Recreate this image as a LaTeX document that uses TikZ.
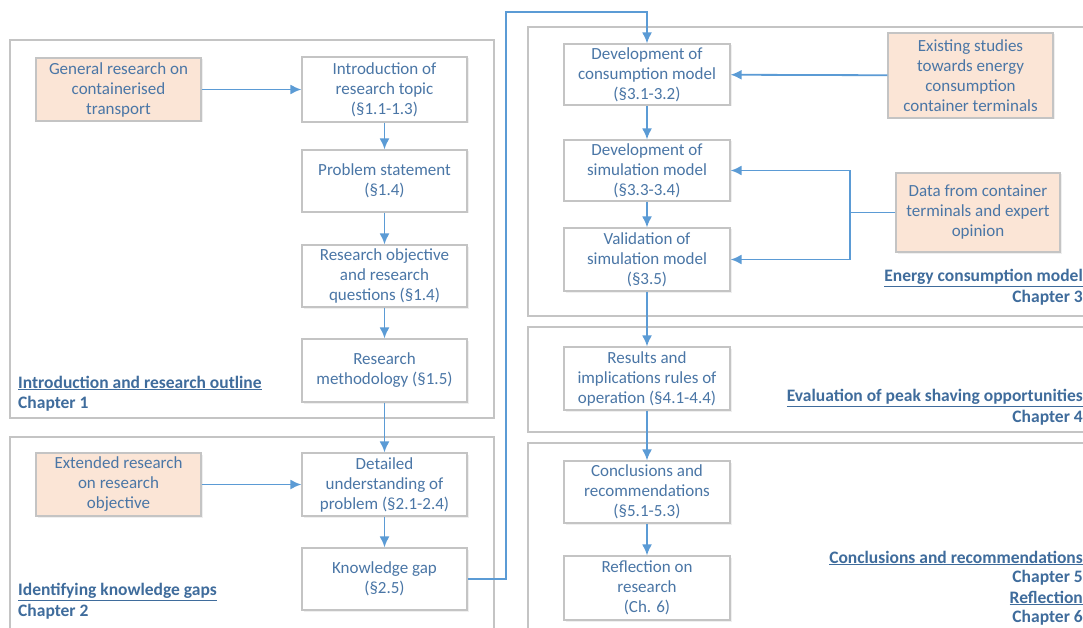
\documentclass[tikz,border=0pt]{standalone}
\usepackage{fontspec}
\setmainfont{Carlito}
\usetikzlibrary{arrows.meta,shadows,positioning}
\definecolor{txt}{HTML}{4A76A6}
\definecolor{lbl}{HTML}{3F6C9C}
\definecolor{peach}{HTML}{FBE5D6}
\definecolor{wire}{HTML}{5B9BD5}
\definecolor{frame}{HTML}{C4C4C4}
\begin{document}
\begin{tikzpicture}[x=1pt,y=-1pt,
  panel/.style={draw=frame,line width=1.3pt,fill=white},
  stage/.style={draw=frame,line width=1.2pt,fill=white,text=txt,align=center,
    font=\fontsize{17}{20}\selectfont,inner sep=0pt,
    drop shadow={opacity=0.12,shadow xshift=1.5pt,shadow yshift=-1.5pt}},
  source/.style={stage,fill=peach},
  flow/.style={draw=wire,line width=1.8pt,-{Latex[length=11pt,width=10pt]}},
  chap/.style={text=lbl,font=\fontsize{17.5}{20}\selectfont\bfseries,inner sep=0pt},
  chapL/.style={chap,anchor=west,align=left},
  chapR/.style={chap,anchor=east,align=right}]
\useasboundingbox (0,0) rectangle (1083,628);
\clip (0,0) rectangle (1083,628);
\fill[white] (0,0) rectangle (1083,628);

% chapter panels
\draw[panel] (10,40) rectangle (494,418);
\draw[panel] (10,437) rectangle (494,640);
\draw[panel] (528,27) rectangle (1095,316);
\draw[panel] (528,327) rectangle (1095,432);
\draw[panel] (528,443) rectangle (1095,640);

% chapter 1
\node[source,minimum width=165pt,minimum height=63pt] (gen) at (118.5,89.5) {General research on\\containerised\\transport};
\node[stage,minimum width=165pt,minimum height=65pt] (intro) at (384.5,89.5) {Introduction of\\research topic\\(§1.1-1.3)};
\node[stage,minimum width=165pt,minimum height=62pt] (prob) at (384.5,181) {Problem statement\\(§1.4)};
\node[stage,minimum width=165pt,minimum height=62pt] (obj) at (384.5,276) {Research objective\\and research\\questions (§1.4)};
\node[stage,minimum width=165pt,minimum height=63pt] (meth) at (384.5,370.5) {Research\\methodology (§1.5)};
\node[chapL] (c1a) at (18,383) {\underline{Introduction and research outline}};
\node[chapL] (c1b) at (18,404) {Chapter 1};

% chapter 2
\node[source,minimum width=165pt,minimum height=63pt] (ext) at (118.5,484.5) {Extended research\\on research\\objective};
\node[stage,minimum width=165pt,minimum height=63pt] (det) at (384.5,484.5) {Detailed\\understanding of\\problem (§2.1-2.4)};
\node[stage,minimum width=165pt,minimum height=62pt] (gap) at (384.5,579) {Knowledge gap\\(§2.5)};
\node[chapL] (c2a) at (18,592) {\underline{Identifying knowledge gaps}};
\node[chapL] (c2b) at (18,612) {Chapter 2};

% chapter 3
\node[stage,minimum width=166pt,minimum height=61pt] (cons) at (647,74.5) {Development of\\consumption model\\(§3.1-3.2)};
\node[source,minimum width=165pt,minimum height=85pt] (exist) at (970.5,75.5) {Existing studies\\towards energy\\consumption\\container terminals};
\node[stage,minimum width=166pt,minimum height=61pt] (sim) at (647,170.5) {Development of\\simulation model\\(§3.3-3.4)};
\node[stage,minimum width=166pt,minimum height=63pt] (val) at (647,259.5) {Validation of\\simulation model\\(§3.5)};
\node[source,minimum width=164pt,minimum height=79pt] (data) at (978,212.5) {Data from container\\terminals and expert\\opinion};
\node[chapR] (c3a) at (1083,278) {\underline{Energy consumption model}};
\node[chapR] (c3b) at (1083,298) {Chapter 3};

% chapter 4
\node[stage,minimum width=166pt,minimum height=63pt] (res) at (647,378.5) {Results and\\implications rules of\\operation (§4.1-4.4)};
\node[chapR] (c4a) at (1083,398) {\underline{Evaluation of peak shaving opportunities}};
\node[chapR] (c4b) at (1083,418) {Chapter 4};

% chapters 5 and 6
\node[stage,minimum width=166pt,minimum height=62pt] (conc) at (647,492) {Conclusions and\\recommendations\\(§5.1-5.3)};
\node[stage,minimum width=166pt,minimum height=64pt] (refl) at (647,588) {Reflection on\\research\\(Ch. 6)};
\node[chapR] (c5a) at (1083,558) {\underline{Conclusions and recommendations}};
\node[chapR] (c5b) at (1083,578) {Chapter 5};
\node[chapR] (c6a) at (1083,598) {\underline{Reflection}};
\node[chapR] (c6b) at (1083,618) {Chapter 6};

% connectors
\coordinate (up) at (506,12);
\coordinate (fork) at (850,212.5);
\draw[flow] (gen) -- (intro);
\draw[flow] (intro) -- (prob);
\draw[flow] (prob) -- (obj);
\draw[flow] (obj) -- (meth);
\draw[flow] (meth) -- (det);
\draw[flow] (ext) -- (det);
\draw[flow] (det) -- (gap);
\draw[flow] (gap.east) -| (up) -| (cons.north);
\draw[flow] (exist) -- (cons);
\draw[flow] (cons) -- (sim);
\draw[flow] (sim) -- (val);
\draw[draw=wire,line width=1.8pt] (data.west) -- (fork);
\draw[flow] (fork) |- (sim.east);
\draw[flow] (fork) |- (val.east);
\draw[flow] (val) -- (res);
\draw[flow] (res) -- (conc);
\draw[flow] (conc) -- (refl);
\end{tikzpicture}
\end{document}
